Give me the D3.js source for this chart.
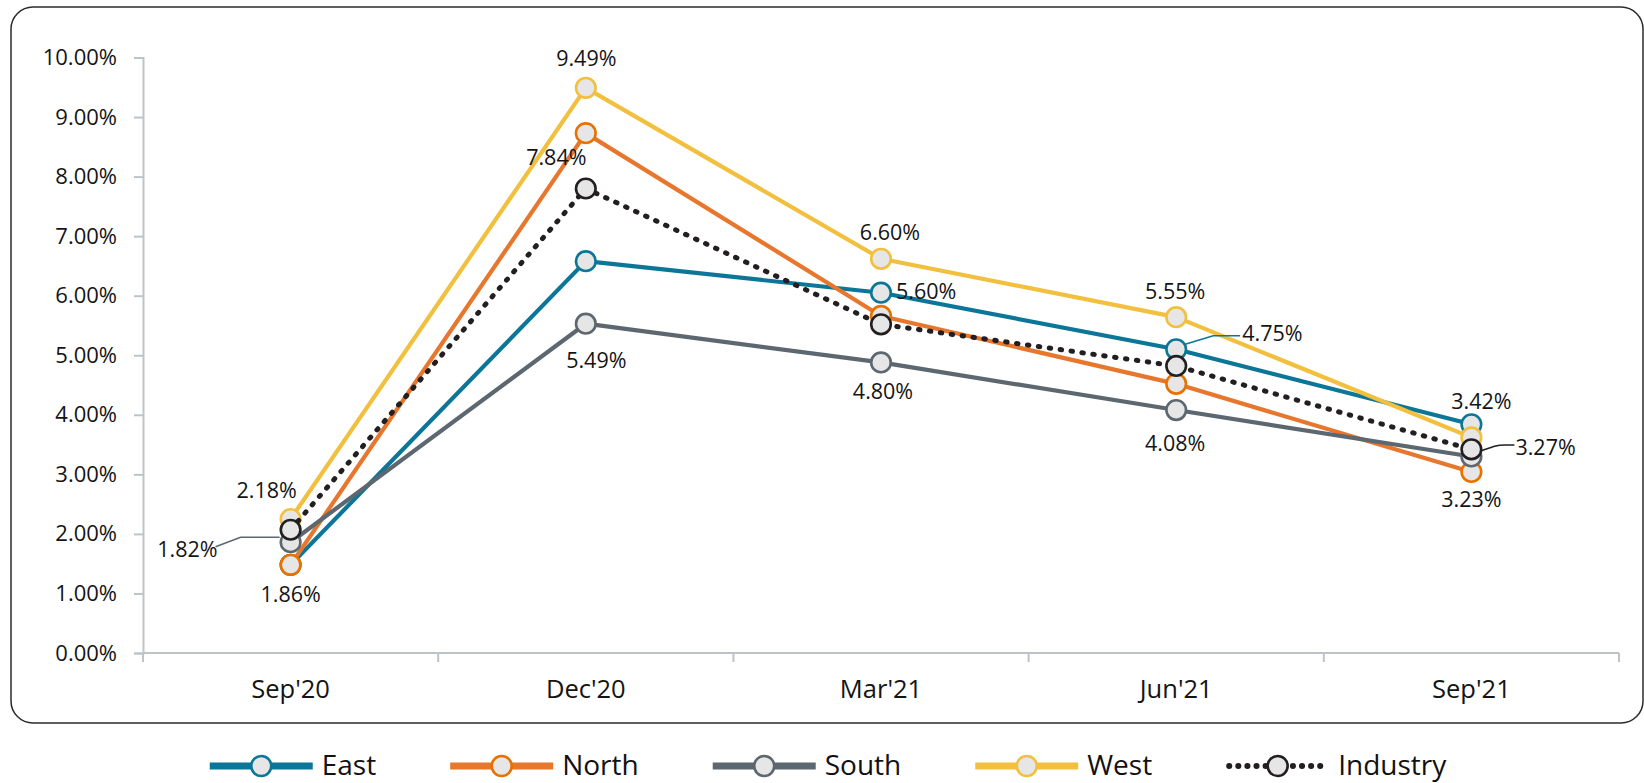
<!DOCTYPE html>
<html>
<head>
<meta charset="utf-8">
<script src="https://cdn.jsdelivr.net/npm/d3@7"></script>
<style>
  html, body { margin: 0; padding: 0; background: #fff; }
  svg { display: block; font-family: "Open Sans", "Noto Sans", sans-serif; }
</style>
</head>
<body>
<svg id="chart" width="1644" height="783"></svg>
<script>
// ---------- DATA ----------
const categories = ["Sep'20", "Dec'20", "Mar'21", "Jun'21", "Sep'21"];
const seriesNames = ["East", "North", "South", "West", "Industry"];
const eastValues     = [1.48, 6.58, 6.05, 5.10, 3.84];
const northValues    = [1.48, 8.73, 5.66, 4.52, 3.04];
const southValues    = [1.86, 5.53, 4.88, 4.08, 3.30];
const westValues     = [2.25, 9.49, 6.62, 5.64, 3.62];
const industryValues = [2.07, 7.80, 5.52, 4.82, 3.42];
const yTickValues = [0, 1, 2, 3, 4, 5, 6, 7, 8, 9, 10];
// data-label texts as printed on the chart (null = no label)
const eastLabels     = ["1.86%", null, "5.60%", "4.75%", "3.42%"];
const northLabels    = [null, null, null, null, "3.23%"];
const southLabels    = ["1.82%", "5.49%", "4.80%", "4.08%", null];
const westLabels     = ["2.18%", "9.49%", "6.60%", "5.55%", null];
const industryLabels = [null, "7.84%", null, null, "3.27%"];

// ---------- STYLE / LAYOUT ----------
const colors = { East: "#0B7698", North: "#E8772E", South: "#5C6770", West: "#F2C03E", Industry: "#231F20" };
const markerStroke = { East: "#0B7698", North: "#E87200", South: "#5C6770", West: "#F2C03E", Industry: "#231F20" };
const valuesBy = { East: eastValues, North: northValues, South: southValues, West: westValues, Industry: industryValues };
const labelsBy = { East: eastLabels, North: northLabels, South: southLabels, West: westLabels, Industry: industryLabels };

// label placement relative to its point: dx, dy (baseline), anchor, optional leader path pts
const labelLayout = {
  "East-0":     { dx: 0,     dy: 37,   anchor: "middle" },
  "South-0":    { dx: -73,   dy: 14.5, anchor: "end", leader: [[-75, 4.4], [-50, -5], [-11, -5]] },
  "West-0":     { dx: -24,   dy: -21,  anchor: "middle" },
  "West-1":     { dx: 0.5,   dy: -21.5,anchor: "middle" },
  "Industry-1": { dx: -29.5, dy: -23.5,anchor: "middle" },
  "South-1":    { dx: 10.5,  dy: 44.5, anchor: "middle" },
  "West-2":     { dx: 9,     dy: -19,  anchor: "middle" },
  "East-2":     { dx: 15,    dy: 6.5,  anchor: "start" },
  "South-2":    { dx: 2,     dy: 37,   anchor: "middle" },
  "West-3":     { dx: -1,    dy: -18,  anchor: "middle" },
  "East-3":     { dx: 66,    dy: -8.5, anchor: "start", leader: [[9, -5], [37, -13.5], [64, -13.5]] },
  "South-3":    { dx: -1,    dy: 40.5, anchor: "middle" },
  "East-4":     { dx: 10,    dy: -15,  anchor: "middle" },
  "Industry-4": { dx: 44,    dy: 5.6,  anchor: "start", leader: [[10, 1.5], [32, -4.4], [43, -4.4]], curve: true },
  "North-4":    { dx: 0,     dy: 35,   anchor: "middle" }
};

const svg = d3.select("#chart");
const plot = { left: 143, right: 1619, top: 57.5, bottom: 653 };

// frame
svg.append("rect")
  .attr("x", 11).attr("y", 7).attr("width", 1632).attr("height", 716)
  .attr("rx", 22).attr("ry", 22)
  .attr("fill", "none").attr("stroke", "#2b2b2b").attr("stroke-width", 1.5);

const x = d3.scaleBand().domain(categories).range([plot.left, plot.right]).padding(0);
const y = d3.scaleLinear().domain([0, 10]).range([plot.bottom, plot.top]);
const cx = c => x(c) + x.bandwidth() / 2;

const axisColor = "#BEC3C8";

// y axis
const yAxis = svg.append("g").attr("transform", `translate(${plot.left},0)`)
  .call(d3.axisLeft(y).tickValues(yTickValues).tickSize(9).tickPadding(17)
    .tickFormat(d => d3.format(".2f")(d) + "%"));
yAxis.select(".domain").attr("stroke", axisColor).attr("stroke-width", 2);
yAxis.selectAll(".tick line").attr("stroke", axisColor).attr("stroke-width", 2);
yAxis.selectAll(".tick text").attr("fill", "#141414").attr("font-size", 22)
  .attr("font-family", "'Open Sans', sans-serif");

// x axis (band boundaries ticks)
const xg = svg.append("g").attr("transform", `translate(0,${plot.bottom})`);
xg.append("line").attr("x1", plot.left).attr("x2", plot.right).attr("y1", 0).attr("y2", 0)
  .attr("stroke", axisColor).attr("stroke-width", 2);
const bounds = categories.map(c => x(c)).concat([plot.right]);
xg.selectAll(".bt").data(bounds).join("line")
  .attr("x1", d => d).attr("x2", d => d).attr("y1", 0).attr("y2", 9)
  .attr("stroke", axisColor).attr("stroke-width", 2);
xg.selectAll(".xl").data(categories).join("text")
  .attr("x", d => cx(d)).attr("y", 45).attr("text-anchor", "middle")
  .attr("font-size", 25.5).attr("fill", "#141414").text(d => d);

// series
const line = d3.line().x((d, i) => cx(categories[i])).y(d => y(d));
seriesNames.forEach(name => {
  const vals = valuesBy[name];
  const g = svg.append("g");
  const p = g.append("path").attr("d", line(vals)).attr("fill", "none")
    .attr("stroke", colors[name]).attr("stroke-linejoin", "round");
  if (name === "Industry") {
    p.attr("stroke-width", 5).attr("stroke-dasharray", "1.5 9.5").attr("stroke-linecap", "round");
  } else {
    p.attr("stroke-width", 4.2);
  }
  g.selectAll("circle").data(vals).join("circle")
    .attr("cx", (d, i) => cx(categories[i])).attr("cy", d => y(d)).attr("r", 9.8)
    .attr("fill", "#E6E6E6").attr("stroke", markerStroke[name]).attr("stroke-width", 2.6);
});

// data labels
const labelG = svg.append("g");
seriesNames.forEach(name => {
  labelsBy[name].forEach((txt, i) => {
    if (!txt) return;
    const L = labelLayout[`${name}-${i}`];
    const px = cx(categories[i]), py = y(valuesBy[name][i]);
    if (L.leader) {
      const pts = L.leader.map(([a, b]) => [px + a, py + b]);
      const gen = L.curve ? d3.line().curve(d3.curveBasis) : d3.line();
      const ptsUse = L.curve ? [pts[0], [pts[1][0] - 6, pts[1][1]], pts[1], pts[2]] : pts;
      labelG.append("path").attr("d", gen(ptsUse)).attr("fill", "none")
        .attr("stroke", colors[name]).attr("stroke-width", 1.6);
    }
    labelG.append("text").attr("x", px + L.dx).attr("y", py + L.dy)
      .attr("text-anchor", L.anchor).attr("font-size", 21.5).attr("fill", "#141414").text(txt);
  });
});

// legend
const legend = svg.append("g");
const lineLen = 103, textGap = 9, itemGap = 74, legendY = 766;
const items = [];
seriesNames.forEach(name => {
  const g = legend.append("g");
  const l = g.append("line").attr("x1", 0).attr("x2", lineLen).attr("y1", 0).attr("y2", 0)
    .attr("stroke", colors[name]);
  if (name === "Industry") {
    l.attr("stroke-width", 6).attr("stroke-dasharray", "0.1 9").attr("stroke-linecap", "round")
      .attr("x1", 3).attr("x2", lineLen - 3);
  } else {
    l.attr("stroke-width", 7);
  }
  g.append("circle").attr("cx", lineLen / 2).attr("cy", 0).attr("r", 10)
    .attr("fill", "#E6E6E6").attr("stroke", markerStroke[name]).attr("stroke-width", 2.6);
  const t = g.append("text").attr("x", lineLen + textGap).attr("y", 8.5)
    .attr("font-size", 28).attr("fill", "#111").text(name);
  const w = lineLen + textGap + t.node().getComputedTextLength();
  items.push({ g, w });
});
const totalW = items.reduce((s, it) => s + it.w, 0) + itemGap * (items.length - 1);
let start = 828 - totalW / 2;
items.forEach(it => {
  it.g.attr("transform", `translate(${start},${legendY})`);
  start += it.w + itemGap;
});
</script>
</body>
</html>
